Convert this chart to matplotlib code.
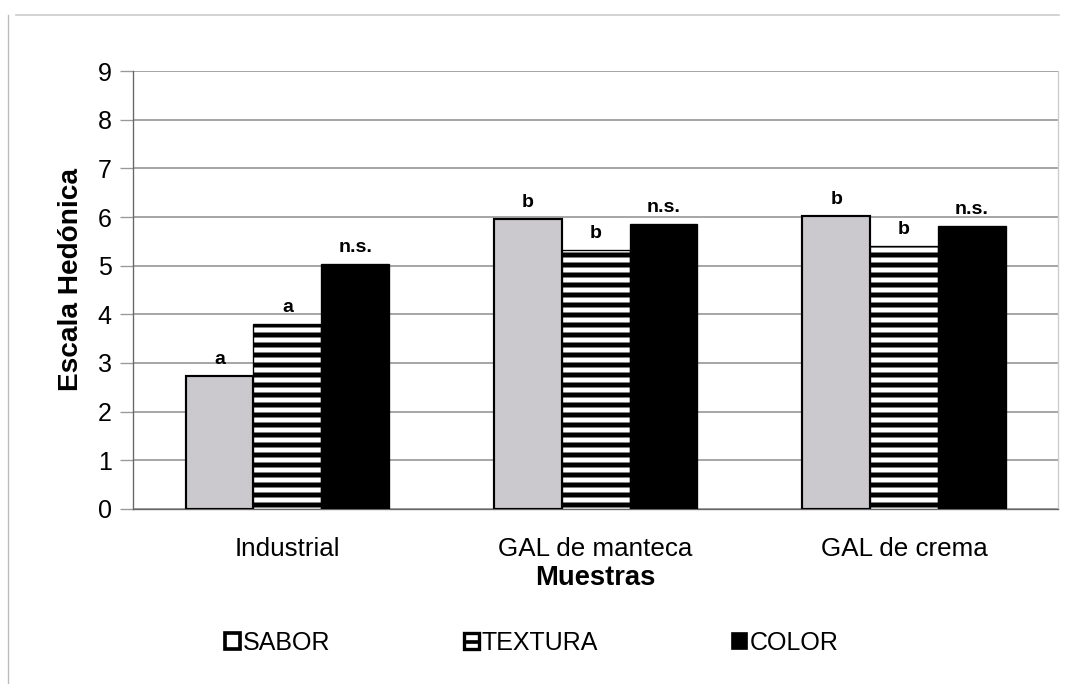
import numpy as np
import matplotlib.pyplot as plt
from matplotlib.patches import Patch
from matplotlib.lines import Line2D

plt.rcParams['font.family'] = ['Liberation Sans', 'DejaVu Sans']
plt.rcParams['hatch.linewidth'] = 3.0

muestras = ['Industrial', 'GAL de manteca', 'GAL de crema']
series = ['SABOR', 'TEXTURA', 'COLOR']
sabor = [2.73, 5.95, 6.02]
textura = [3.80, 5.32, 5.40]
color = [5.03, 5.85, 5.81]
letras_sabor = ['a', 'b', 'b']
letras_textura = ['a', 'b', 'b']
letras_color = ['n.s.', 'n.s.', 'n.s.']

# 120 dpi so that the '--' hatch gives stripes about 10 px apart
fig = plt.figure(figsize=(9.1, 5.7), dpi=120)
ax = fig.add_axes([0.122, 0.256, 0.847, 0.640])

x = np.arange(len(muestras))
w = 0.22
b1 = ax.bar(x - w, sabor, w, color='#cbc9ce', edgecolor='black', linewidth=1.3, zorder=3)
b2 = ax.bar(x, textura, w, color='white', edgecolor='black', hatch='--', linewidth=0.8, zorder=3)
b3 = ax.bar(x + w, color, w, color='black', edgecolor='black', linewidth=0.8, zorder=3)

for bars, vals, labs in [(b1, sabor, letras_sabor), (b2, textura, letras_textura), (b3, color, letras_color)]:
    for rect, v, lab in zip(bars, vals, labs):
        ax.annotate(lab, (rect.get_x() + rect.get_width() / 2, v), xytext=(0, 5),
                    textcoords='offset points', ha='center', va='bottom',
                    fontsize=11.7, fontweight='bold')

ax.set_xlim(-0.5, 2.5)
ax.set_ylim(0, 9)
ax.set_yticks(range(0, 10))
ax.yaxis.grid(True, color='#8a8a8a', linewidth=0.9, zorder=0)
ax.set_axisbelow(True)
ax.set_xticks(x)
ax.set_xticklabels(muestras, fontsize=15.6)
ax.tick_params(axis='x', length=0, pad=17)
ax.tick_params(axis='y', labelsize=15, direction='out', length=8, width=0.8,
               color='#999999', pad=5)
ax.spines['top'].set_visible(False)
ax.spines['right'].set_color('#cccccc')
ax.spines['left'].set_color('#666666')
ax.spines['bottom'].set_color('#666666')
ax.set_ylabel('Escala Hedónica', fontsize=16.8, fontweight='bold', labelpad=8)
ax.yaxis.label.set_y(0.525)
ax.set_xlabel('Muestras', fontsize=16.4, fontweight='bold', labelpad=2)

handles = [Patch(facecolor='white', edgecolor='black', linewidth=2.2),
           (Patch(facecolor='white', edgecolor='black', linewidth=2.0),
            Line2D([], [], marker='_', color='black', markersize=8, markeredgewidth=2.2,
                   linestyle='none')),
           Patch(facecolor='black', edgecolor='black')]
fig.legend(handles, series, loc='center', bbox_to_anchor=(0.487, 0.06), ncol=3,
           frameon=False, fontsize=15, handlelength=0.6, handleheight=0.6,
           handletextpad=0.1, columnspacing=5.36)

# marco de la imagen escaneada
fig.add_artist(plt.Line2D([0.015, 0.97], [0.978, 0.978], color='#cccccc', linewidth=1.0))
fig.add_artist(plt.Line2D([0.007, 0.007], [0.0, 0.978], color='#bbbbbb', linewidth=0.8))

fig.savefig('out.png', dpi=120)
